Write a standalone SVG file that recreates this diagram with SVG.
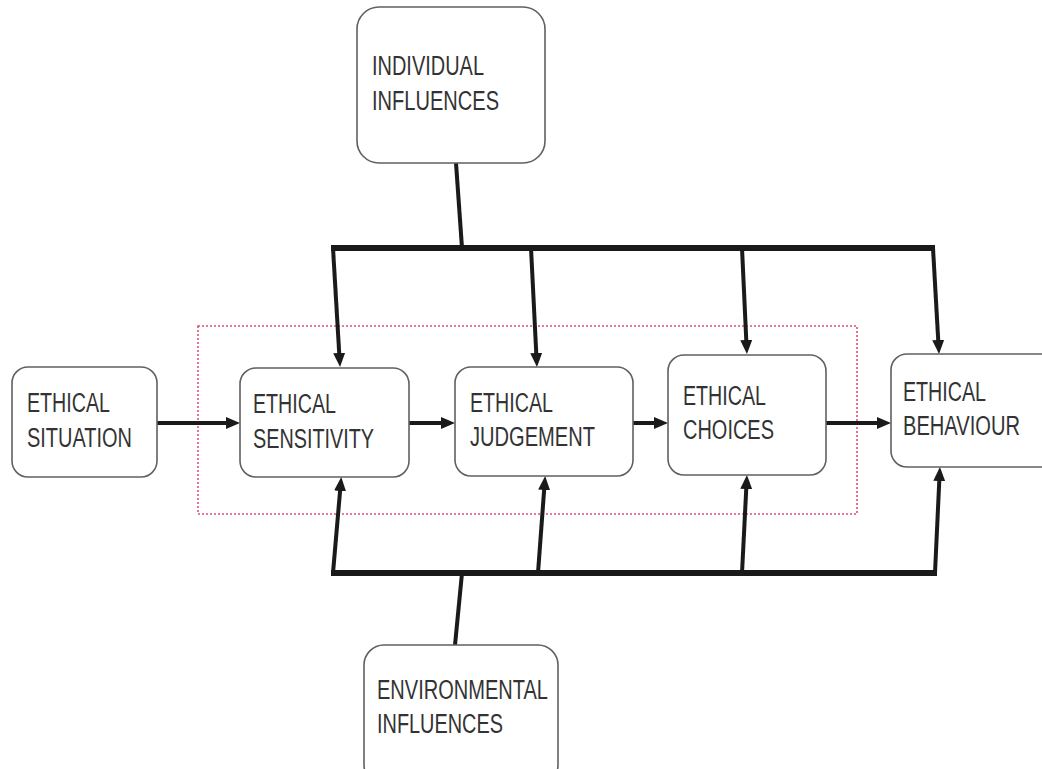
<svg xmlns="http://www.w3.org/2000/svg" width="1042" height="769" viewBox="0 0 1042 769">
<style>
.box{fill:#fff;stroke:#606060;stroke-width:1.6}
.t{font-family:"Liberation Sans",Arial,sans-serif;font-size:27px;fill:#333}
.bus{fill:none;stroke:#1a1a1a;stroke-width:6;stroke-linejoin:round}
.ln{fill:none;stroke:#1a1a1a;stroke-width:4}
.arr{fill:none;stroke:#1a1a1a;stroke-width:4;marker-end:url(#ah)}
</style>
<defs>
<marker id="ah" markerUnits="userSpaceOnUse" markerWidth="14" markerHeight="12" refX="5" refY="6" orient="auto">
<path d="M0,0 L14,6 L0,12 z" fill="#1a1a1a"/>
</marker>
</defs>
<rect x="198" y="326" width="659" height="188" fill="none" stroke="#e05070" stroke-width="1.6" stroke-dasharray="2,2"/>
<g id="connectors">
<line class="ln" x1="456" y1="163" x2="462" y2="248"/>
<line class="bus" x1="331" y1="248" x2="935" y2="248"/>
<line class="arr" x1="333" y1="248" x2="339.5" y2="358"/>
<line class="arr" x1="531" y1="248" x2="536.5" y2="358"/>
<line class="arr" x1="742" y1="248" x2="746.5" y2="345"/>
<line class="arr" x1="933" y1="248" x2="938.5" y2="345"/>
<line class="ln" x1="462" y1="573" x2="455" y2="645"/>
<line class="bus" x1="331" y1="573" x2="937" y2="573"/>
<line class="arr" x1="333" y1="573" x2="340.5" y2="486"/>
<line class="arr" x1="538" y1="573" x2="544.5" y2="485"/>
<line class="arr" x1="742" y1="573" x2="746.5" y2="484"/>
<line class="arr" x1="935" y1="573" x2="939.5" y2="476"/>
<line class="arr" x1="157" y1="423" x2="231" y2="423"/>
<line class="arr" x1="409" y1="423" x2="446" y2="423"/>
<line class="arr" x1="633" y1="423" x2="659" y2="423"/>
<line class="arr" x1="826" y1="423" x2="882" y2="423"/>
</g>
<g id="individual">
<rect class="box" x="357" y="7" width="188" height="156" rx="22"/>
<text class="t" x="372" y="75" textLength="112" lengthAdjust="spacingAndGlyphs">INDIVIDUAL</text>
<text class="t" x="372" y="110" textLength="127" lengthAdjust="spacingAndGlyphs">INFLUENCES</text>
</g>
<g id="situation">
<rect class="box" x="12" y="367" width="145" height="110" rx="16"/>
<text class="t" x="27" y="412" textLength="83" lengthAdjust="spacingAndGlyphs">ETHICAL</text>
<text class="t" x="27" y="447" textLength="105" lengthAdjust="spacingAndGlyphs">SITUATION</text>
</g>
<g id="sensitivity">
<rect class="box" x="240" y="368" width="169" height="109" rx="16"/>
<text class="t" x="253" y="413" textLength="83" lengthAdjust="spacingAndGlyphs">ETHICAL</text>
<text class="t" x="253" y="448" textLength="121" lengthAdjust="spacingAndGlyphs">SENSITIVITY</text>
</g>
<g id="judgement">
<rect class="box" x="455" y="367" width="178" height="109" rx="16"/>
<text class="t" x="470" y="412" textLength="83" lengthAdjust="spacingAndGlyphs">ETHICAL</text>
<text class="t" x="470" y="446" textLength="125" lengthAdjust="spacingAndGlyphs">JUDGEMENT</text>
</g>
<g id="choices">
<rect class="box" x="668" y="355" width="158" height="120" rx="16"/>
<text class="t" x="683" y="405" textLength="83" lengthAdjust="spacingAndGlyphs">ETHICAL</text>
<text class="t" x="683" y="439" textLength="91" lengthAdjust="spacingAndGlyphs">CHOICES</text>
</g>
<g id="behaviour">
<rect class="box" x="891" y="354" width="170" height="113" rx="16"/>
<text class="t" x="903" y="401" textLength="83" lengthAdjust="spacingAndGlyphs">ETHICAL</text>
<text class="t" x="903" y="435" textLength="117" lengthAdjust="spacingAndGlyphs">BEHAVIOUR</text>
</g>
<g id="environmental">
<rect class="box" x="364" y="645" width="194" height="140" rx="20"/>
<text class="t" x="377" y="699" textLength="171" lengthAdjust="spacingAndGlyphs">ENVIRONMENTAL</text>
<text class="t" x="377" y="733" textLength="126" lengthAdjust="spacingAndGlyphs">INFLUENCES</text>
</g>
</svg>
